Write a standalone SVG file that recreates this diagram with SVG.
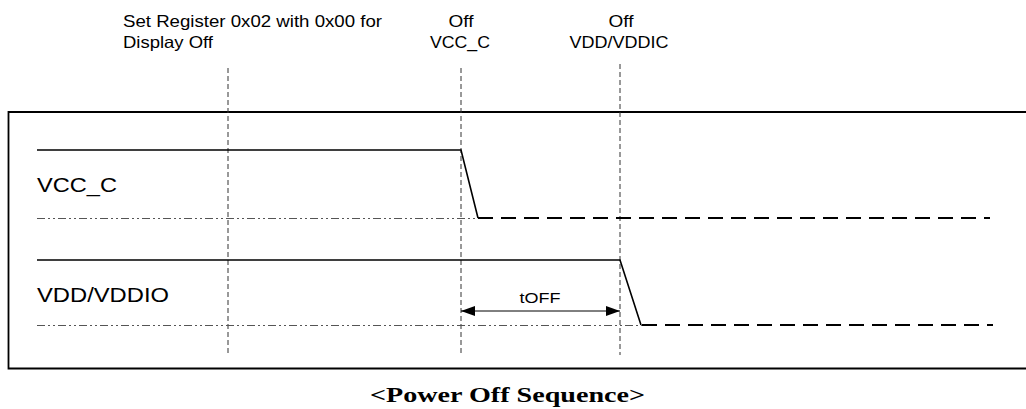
<svg xmlns="http://www.w3.org/2000/svg" width="1026" height="409" viewBox="0 0 1026 409">
<defs>
<style>
.t{font-family:"Liberation Sans",Arial,sans-serif;fill:#000}
.cap{font-family:"Liberation Serif","Times New Roman",serif;font-weight:bold;fill:#000}
.vd{stroke:#333;stroke-width:1;stroke-dasharray:5 3;fill:none}
.base{stroke:#555;stroke-width:1;stroke-dasharray:8 3 2 3 2 3;fill:none}
.hi{stroke:#000;stroke-width:1.6;fill:none}
.lo{stroke:#000;stroke-width:2;stroke-dasharray:15 8;fill:none}
</style>
<marker id="ah" viewBox="0 0 14 10" refX="14" refY="5" markerWidth="14" markerHeight="10" markerUnits="userSpaceOnUse" orient="auto-start-reverse">
<path d="M0,0 L14,5 L0,10 Z" fill="#000"/>
</marker>
</defs>
<rect width="1026" height="409" fill="#fff"/>
<g id="frame">
<path d="M1030,112 H8.5 V368.5 H1030" fill="none" stroke="#000" stroke-width="1.8"/>
</g>
<g id="labels-top">
<text class="t" x="123" y="27" font-size="16.5" textLength="259" lengthAdjust="spacingAndGlyphs">Set Register 0x02 with 0x00 for</text>
<text class="t" x="123" y="48" font-size="16.5" textLength="90" lengthAdjust="spacingAndGlyphs">Display Off</text>
<text class="t" x="461" y="27" font-size="16.5" text-anchor="middle" textLength="25" lengthAdjust="spacingAndGlyphs">Off</text>
<text class="t" x="460" y="48" font-size="16.5" text-anchor="middle" textLength="60" lengthAdjust="spacingAndGlyphs">VCC_C</text>
<text class="t" x="621" y="27" font-size="16.5" text-anchor="middle" textLength="25" lengthAdjust="spacingAndGlyphs">Off</text>
<text class="t" x="619" y="48" font-size="16.5" text-anchor="middle" textLength="99" lengthAdjust="spacingAndGlyphs">VDD/VDDIC</text>
</g>
<g id="connectors">
<line class="vd" x1="228" y1="68" x2="228" y2="355"/>
<line class="vd" x1="461" y1="68" x2="461" y2="353"/>
<line class="vd" x1="620" y1="64" x2="620" y2="355"/>
</g>
<g id="vcc">
<text class="t" x="37" y="192" font-size="19.5" textLength="80" lengthAdjust="spacingAndGlyphs">VCC_C</text>
<line class="base" x1="37" y1="218.5" x2="478" y2="218.5"/>
<path class="hi" d="M37,150 H461 L478,218"/>
<line class="lo" x1="478" y1="218" x2="990" y2="218"/>
</g>
<g id="vdd">
<text class="t" x="37" y="302" font-size="19.5" textLength="132" lengthAdjust="spacingAndGlyphs">VDD/VDDIO</text>
<line class="base" x1="37" y1="325.5" x2="642" y2="325.5"/>
<path class="hi" d="M37,260 H620 L641,325"/>
<line class="lo" x1="642" y1="325" x2="993" y2="325"/>
</g>
<g id="toff">
<line x1="461" y1="311" x2="620" y2="311" stroke="#000" stroke-width="1" marker-start="url(#ah)" marker-end="url(#ah)"/>
<text class="t" x="540" y="303" font-size="15.5" text-anchor="middle" textLength="41" lengthAdjust="spacingAndGlyphs">tOFF</text>
</g>
<g id="caption">
<text class="cap" x="507.5" y="402" font-size="20.5" text-anchor="middle" textLength="275" lengthAdjust="spacingAndGlyphs">&lt;Power Off Sequence&gt;</text>
</g>
</svg>
